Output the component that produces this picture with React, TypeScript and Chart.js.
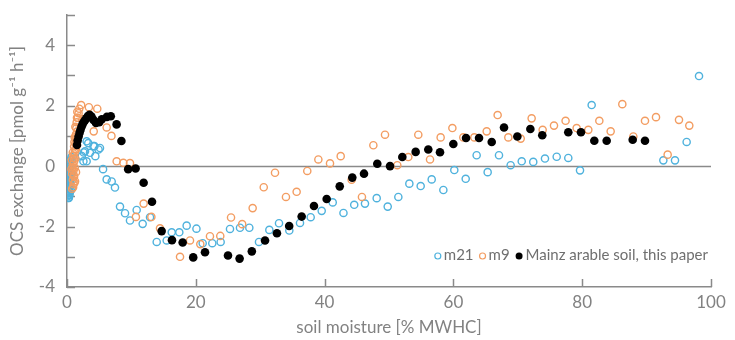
import React, { useEffect, useRef } from "react";
import { Chart, registerables } from "chart.js";

Chart.register(...registerables);

const xTickValues = [0, 20, 40, 60, 80, 100];
const yTickLabels = [-4, -2, 0, 2, 4];

const seriesNames = ["m21", "m9", "Mainz arable soil, this paper"];

const m21Points: [number, number][] = [
  [0.1, -1.0], [0.2, -0.95], [0.15, -0.85], [0.3, -0.9], [0.25, -0.75], [0.1, -0.7], [0.35, -0.6],
  [0.2, -0.55], [0.3, -0.45], [0.15, -0.4], [0.4, -0.35], [0.25, -0.3], [0.35, -0.2], [0.2, -0.15],
  [0.45, -0.1], [0.3, -0.05], [0.5, 0.0], [0.4, 0.1], [0.55, 0.2], [0.6, -0.8], [0.5, -0.65],
  [0.45, -0.5], [0.6, -0.25], [0.7, 0.3], [0.3, -1.05], [0.1, -0.5], [0.1, -0.25],
  [0.05, -0.9], [0.15, -0.6], [0.25, -0.2], [0.35, -0.75], [0.4, -0.95], [0.2, 0.05], [0.5, -0.4],
  [0.15, -1.05], [0.05, -0.35], [0.3, 0.15], [0.45, -0.85], [0.55, -0.55],
  [2.3, 0.33], [2.55, 0.16], [2.6, 0.45], [2.8, 0.49], [3.05, 0.82], [3.05, 0.16], [3.3, 0.76],
  [3.57, 0.44], [4.1, 0.66], [4.25, 0.66], [4.4, 0.33], [4.9, 0.55], [5.12, 0.6], [5.6, -0.1],
  [6.16, -0.44], [6.94, -0.51], [7.45, -0.71], [8.23, -1.34], [9.01, -1.56], [9.78, -1.8],
  [10.82, -1.45], [11.75, -1.91], [12.89, -1.69], [13.93, -2.51], [15.48, -2.46], [16.26, -2.19],
  [17.44, -2.19], [18.58, -1.97], [20.1, -2.07], [21.07, -2.55], [22.56, -2.55], [23.86, -2.51],
  [25.31, -2.08], [26.86, -2.04], [28.31, -2.04], [29.81, -2.51], [31.42, -2.11], [32.92, -1.89],
  [34.52, -2.13], [36.18, -1.88], [37.84, -1.69], [39.55, -1.48], [41.26, -1.2], [42.93, -1.55],
  [44.6, -1.28], [46.27, -1.24], [48.09, -1.06], [49.8, -1.34], [51.45, -1.02], [53.16, -0.58],
  [54.92, -0.66], [56.63, -0.44], [58.44, -0.79], [60.14, -0.13], [61.91, -0.42], [63.61, 0.36],
  [65.32, -0.2], [67.08, 0.36], [68.89, 0.03], [70.61, 0.16], [72.4, 0.14], [74.22, 0.25],
  [76.04, 0.31], [77.84, 0.27], [79.66, -0.14], [81.47, 2.02], [92.6, 0.19], [94.41, 0.19],
  [96.22, 0.8], [98.14, 2.98],
];

const m9Points: [number, number][] = [
  [0.8, -0.75], [1.0, -0.6], [0.9, -0.45], [1.1, -0.35], [0.8, -0.25], [1.0, -0.15], [1.2, -0.05],
  [0.9, 0.05], [1.1, 0.15], [1.3, 0.25], [1.0, 0.35], [1.2, 0.45], [1.4, 0.55], [1.1, 0.65],
  [1.3, 0.75], [1.5, 0.85], [1.2, 0.95], [1.4, 1.05], [1.6, 1.15], [1.3, 1.3], [1.5, 1.45],
  [1.7, 1.6], [1.6, 1.8], [1.9, 1.9], [1.25, -0.5], [1.4, -0.2], [0.7, -0.1], [0.75, 0.2],
  [0.95, -0.7], [1.15, -0.55], [0.85, -0.05], [1.05, 0.25], [1.25, 0.55], [1.35, 0.9],
  [1.15, 0.8], [1.45, 1.25], [1.55, 1.6], [0.9, 0.45], [1.05, -0.3],
  [2.2, 2.02], [3.4, 1.95], [4.7, 1.9], [1.8, 1.75], [2.4, 1.55], [4.15, 1.15], [6.16, 1.28],
  [6.9, 1.0], [7.71, 0.16], [8.75, 0.11], [9.78, 0.1], [10.7, -1.68], [11.9, -1.24], [13.1, -1.68],
  [14.44, -2.06], [17.55, -3.0], [19.1, -2.46], [20.7, -2.58], [22.2, -2.32], [23.8, -2.31],
  [25.47, -1.7], [27.2, -1.92], [28.83, -1.39], [30.55, -0.7], [32.3, -0.22], [34.0, -1.02],
  [35.66, -0.85], [37.31, -0.16], [39.03, 0.22], [40.84, 0.09], [42.5, 0.33], [44.2, -0.45],
  [45.8, -1.02], [47.57, 0.69], [49.38, 1.04], [51.29, 0.03], [53.0, 0.3], [54.55, 1.04],
  [56.37, 0.22], [58.02, 0.95], [59.84, 1.26], [61.54, 0.95], [63.25, 0.95], [65.17, 1.15],
  [66.87, 1.69], [68.53, 0.95], [70.45, 0.91], [72.15, 1.58], [73.86, 1.2], [75.62, 1.34],
  [77.42, 1.5], [79.14, 1.26], [80.95, 1.2], [82.66, 1.5], [84.42, 1.15], [86.23, 2.05],
  [87.94, 0.98], [89.75, 1.5], [91.46, 1.62], [93.27, 0.38], [95.03, 1.53], [96.63, 1.34],
];

const mainzPoints: [number, number][] = [
  [1.55, 0.7], [1.65, 0.85], [1.8, 0.98], [1.95, 1.1], [2.1, 1.2], [2.25, 1.3], [2.4, 1.38],
  [2.6, 1.46], [2.8, 1.52], [3.0, 1.58], [3.25, 1.66], [3.5, 1.7], [3.8, 1.64], [4.1, 1.53],
  [4.5, 1.43], [5.0, 1.45], [5.4, 1.55], [6.2, 1.63], [6.8, 1.65], [7.7, 1.38], [8.45, 0.83],
  [9.5, -0.1], [10.65, -0.08], [11.9, -0.55], [13.2, -1.18], [14.7, -2.15], [16.3, -2.45],
  [17.96, -2.53], [19.6, -3.02], [21.43, -2.85], [25.0, -2.96], [26.8, -3.06], [28.7, -2.82],
  [30.75, -2.46], [32.6, -2.22], [34.5, -1.98], [36.44, -1.67], [38.35, -1.32], [40.32, -1.09],
  [42.35, -0.67], [44.3, -0.38], [46.12, -0.25], [48.18, 0.08], [50.16, 0.0], [52.07, 0.3],
  [54.14, 0.47], [56.1, 0.55], [57.92, 0.46], [59.99, 0.73], [61.96, 0.93], [63.98, 0.93],
  [65.95, 0.8], [67.86, 1.28], [69.93, 0.98], [71.95, 1.23], [73.8, 1.02], [77.84, 1.12],
  [79.81, 1.12], [81.88, 0.84], [83.8, 0.84], [87.84, 0.87], [89.75, 0.84],
];

const BLUE = "#4fb2dd";
const ORANGE = "#f39d62";
const BLACK = "#000000";
const AXIS = "#8a8a8a";
const TEXT = "#828282";
const FONT = "Lato, 'Open Sans', sans-serif";

const toXY = (pts: [number, number][]) => pts.map(([x, y]) => ({ x, y }));

const decorPlugin = {
  id: "decor",
  beforeDatasetsDraw(chart: any) {
    const { ctx, chartArea, scales } = chart;
    const xs = scales.x;
    const ys = scales.y;
    ctx.save();
    ctx.strokeStyle = AXIS;
    ctx.lineWidth = 1.5;
    for (let v = ys.min; v <= ys.max; v += 1) {
      const py = Math.round(ys.getPixelForValue(v)) + 0.5;
      ctx.beginPath();
      ctx.moveTo(chartArea.left, py);
      ctx.lineTo(chartArea.left + 8, py);
      ctx.stroke();
    }
    xTickValues.forEach((v) => {
      const px = Math.round(xs.getPixelForValue(v)) + 0.5;
      ctx.beginPath();
      ctx.moveTo(px, chartArea.bottom);
      ctx.lineTo(px, chartArea.bottom - 8);
      ctx.stroke();
    });
    const y0 = Math.round(ys.getPixelForValue(0)) + 0.5;
    ctx.beginPath();
    ctx.moveTo(chartArea.left, y0);
    ctx.lineTo(chartArea.right, y0);
    ctx.stroke();
    ctx.restore();
  },
  afterDraw(chart: any) {
    const { ctx, chartArea } = chart;
    ctx.save();
    ctx.font = `15px ${FONT}`;
    ctx.textBaseline = "middle";
    const colors = [BLUE, ORANGE, BLACK];
    const filled = [false, false, true];
    const r = [3, 3, 3.5];
    const gapMarkerText = 3;
    const gapItems = 6;
    const widths = seriesNames.map((n) => ctx.measureText(n).width);
    let total = 0;
    seriesNames.forEach((_, i) => {
      total += r[i] * 2 + gapMarkerText + widths[i];
      if (i < seriesNames.length - 1) total += gapItems;
    });
    let x = chartArea.right - 3 - total;
    const y = chartArea.bottom - 32;
    seriesNames.forEach((name, i) => {
      ctx.beginPath();
      ctx.arc(x + r[i], y + 1, r[i], 0, Math.PI * 2);
      if (filled[i]) {
        ctx.fillStyle = colors[i];
        ctx.fill();
      } else {
        ctx.strokeStyle = colors[i];
        ctx.lineWidth = 1.2;
        ctx.stroke();
      }
      x += r[i] * 2 + gapMarkerText;
      ctx.fillStyle = "#6f6f6f";
      ctx.textAlign = "left";
      ctx.fillText(name, x, y);
      x += widths[i] + gapItems;
    });
    ctx.restore();
  },
};

export default function App() {
  const canvasRef = useRef<HTMLCanvasElement | null>(null);

  useEffect(() => {
    if (!canvasRef.current) return;
    const chart = new Chart(canvasRef.current, {
      type: "scatter",
      data: {
        datasets: [
          {
            label: seriesNames[0],
            data: toXY(m21Points),
            pointStyle: "circle",
            pointRadius: 3.6,
            borderWidth: 1.4,
            borderColor: BLUE,
            backgroundColor: "rgba(0,0,0,0)",
            order: 2,
          },
          {
            label: seriesNames[1],
            data: toXY(m9Points),
            pointStyle: "circle",
            pointRadius: 3.6,
            borderWidth: 1.4,
            borderColor: ORANGE,
            backgroundColor: "rgba(0,0,0,0)",
            order: 1,
          },
          {
            label: seriesNames[2],
            data: toXY(mainzPoints),
            pointStyle: "circle",
            pointRadius: 4.3,
            borderWidth: 0,
            borderColor: BLACK,
            backgroundColor: BLACK,
            order: 0,
          },
        ],
      },
      options: {
        animation: false,
        responsive: false,
        maintainAspectRatio: false,
        layout: { padding: { top: 15, right: 24, left: 0, bottom: 0 } },
        plugins: {
          legend: { display: false },
          tooltip: { enabled: false },
        },
        scales: {
          x: {
            type: "linear",
            min: 0,
            max: 100,
            afterFit: (s: any) => {
              s.height = 53;
              s.paddingLeft = 0;
              s.paddingRight = 0;
            },
            afterBuildTicks: (s: any) => {
              s.ticks = xTickValues.map((v) => ({ value: v }));
            },
            ticks: {
              color: TEXT,
              font: { family: FONT, size: 17 },
              padding: 5,
              maxRotation: 0,
            },
            grid: { display: true, drawOnChartArea: false, drawTicks: false },
            border: { display: true, color: AXIS, width: 1.5 },
            title: {
              display: true,
              text: "soil moisture [% MWHC]",
              color: TEXT,
              font: { family: FONT, size: 17 },
              padding: { top: 0, bottom: 2 },
            },
          },
          y: {
            type: "linear",
            min: -4,
            max: 5,
            afterFit: (s: any) => {
              s.width = 67;
              s.paddingTop = 0;
              s.paddingBottom = 0;
            },
            afterBuildTicks: (s: any) => {
              s.ticks = yTickLabels.map((v) => ({ value: v }));
            },
            ticks: {
              color: TEXT,
              font: { family: FONT, size: 17 },
              padding: 12,
            },
            grid: { display: true, drawOnChartArea: false, drawTicks: false },
            border: { display: true, color: AXIS, width: 1.5 },
            title: {
              display: true,
              text: "OCS exchange [pmol g⁻¹ h⁻¹]",
              color: TEXT,
              font: { family: FONT, size: 17 },
              padding: { top: 7, bottom: 0 },
            },
          },
        },
      },
      plugins: [decorPlugin],
    });
    return () => chart.destroy();
  }, []);

  return (
    <div style={{ position: "absolute", left: 0, top: 0, width: 735, height: 340, background: "#fff" }}>
      <canvas ref={canvasRef} width={735} height={340} style={{ width: 735, height: 340 }} />
    </div>
  );
}
